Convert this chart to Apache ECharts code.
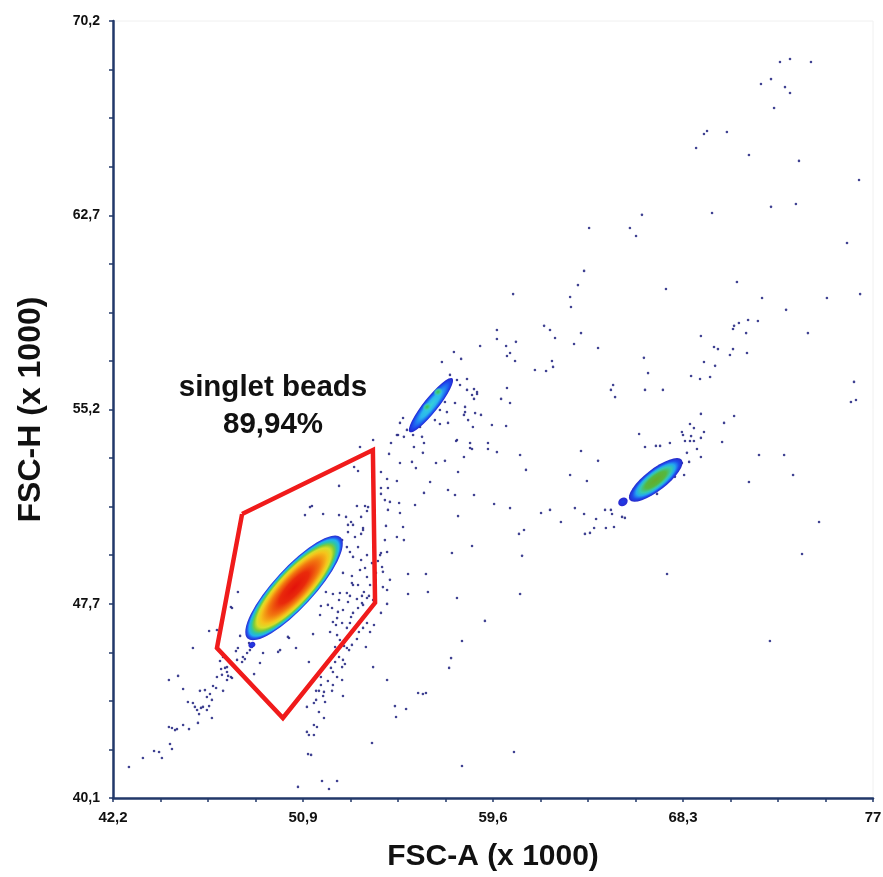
<!DOCTYPE html>
<html>
<head>
<meta charset="utf-8">
<script src="https://cdn.jsdelivr.net/npm/echarts@6/dist/echarts.min.js"></script>
<style>
  html, body { margin: 0; padding: 0; background: #ffffff; }
  #main { width: 883px; height: 877px; }
</style>
</head>
<body>
<div id="main"></div>
<script>
// axis ticks (FSC-A x1000, FSC-H x1000)
var xTickValues = [42.2, 50.9, 59.6, 68.3, 77];
var xTickLabels = ['42,2', '50,9', '59,6', '68,3', '77'];
var yTickValues = [40.1, 47.625, 55.15, 62.675, 70.2];
var yTickLabels = ['40,1', '47,7', '55,2', '62,7', '70,2'];

// gate "singlet beads" vertices [FSC-A, FSC-H]
var gateVertices = [
    [48.11, 51.10], [54.10, 53.58], [54.20, 47.66], [49.98, 43.20], [46.96, 45.91], [48.11, 51.10]
];

// density blobs: [centerA, centerH, tipA, tipH, widthRatio]
var densitySinglets = [
    [50.49, 48.24, 52.62, 50.20, 0.29]
];
var densityDoubletsLow = [
    [56.76, 55.32, 57.74, 56.36, 0.21]
];
var densityDoubletsHigh = [
    [67.05, 52.42, 68.24, 53.20, 0.33]
];
var densitySpots = [
    [56.58, 55.25, 56.76, 55.36, 0.8],
    [57.08, 55.83, 57.27, 55.94, 0.8]
];
var densitySmall = [
    [65.55, 51.57, 65.74, 51.68, 0.8],
    [48.56, 46.03, 48.70, 46.10, 0.8]
];

// single events [FSC-A, FSC-H]
var events = [
    [72.74,68.61],[73.20,68.73],[74.16,68.61],[71.87,67.76],[72.33,67.95],[72.97,67.64],[73.20,67.41],[72.47,66.83],
    [69.26,65.82],[69.40,65.94],[70.31,65.90],[68.90,65.28],[71.32,65.01],[73.61,64.78],[76.36,64.04],[66.42,62.69],
    [64.00,62.18],[65.87,62.18],[66.15,61.87],[69.63,62.76],[72.33,63.00],[73.47,63.11],[75.81,61.60],[63.77,60.52],
    [63.49,59.97],[63.13,59.51],[63.17,59.12],[60.52,59.62],[67.52,59.82],[70.77,60.09],[71.92,59.47],[74.89,59.47],
    [76.41,59.62],[73.02,59.01],[71.73,58.58],[71.28,58.62],[70.86,58.50],[70.64,58.39],[70.59,58.27],[71.19,58.11],
    [74.02,58.11],[69.12,58.00],[59.78,58.23],[59.78,57.88],[59.01,57.61],[60.20,57.61],[60.65,57.77],[61.94,58.39],
    [62.21,58.23],[62.44,57.92],[63.63,58.11],[63.31,57.69],[64.41,57.53],[69.72,57.57],
    [69.90,57.49],[70.59,57.49],[70.45,57.26],[71.23,57.34],[69.26,56.99],[69.77,56.84],[68.67,56.45],[69.08,56.33],
    [69.54,56.41],[67.38,55.91],[76.13,56.22],[75.99,55.44],[76.22,55.52],[69.12,54.98],[70.64,54.90],[70.18,54.63],
    [68.62,54.59],[68.80,54.43],[69.26,54.28],[68.25,54.28],[69.12,54.05],[70.09,53.89],[68.39,53.93],[68.80,53.93],
    [68.67,54.12],[68.94,53.62],[69.12,53.31],[71.78,53.39],[72.93,53.39],[73.34,52.61],[71.32,52.34],[74.53,50.79],
    [73.75,49.55],[67.57,48.78],[72.28,46.18],[68.35,52.61],[67.93,52.54],[67.11,51.88],[67.70,53.85],[67.06,53.74],
    [67.25,53.74],[68.48,53.47],[68.25,53.08],[68.58,53.12],
    [57.81,57.38],[58.14,57.11],[60.38,57.34],[60.24,57.22],[60.61,57.03],[62.30,57.03],[62.35,56.80],[61.52,56.68],
    [62.03,56.64],[66.51,57.15],[66.70,56.56],[65.10,56.10],[65.00,55.91],[65.19,55.63],[66.56,55.91],[60.24,55.98],
    [59.97,55.56],[60.38,55.40],[58.73,55.94],[58.87,55.75],[58.73,55.56],[58.41,56.33],[57.86,55.40],[58.32,55.05],
    [58.27,54.94],[58.46,54.74],[59.05,54.94],[59.55,54.55],[60.20,54.51],[57.95,53.97],[58.55,53.85],[58.64,53.62],
    [59.37,53.85],[59.37,53.62],[59.78,53.50],[58.27,53.31],[60.84,53.39],[63.63,53.54],[66.29,54.20],[66.56,53.70],
    [64.41,53.16],[61.11,52.81],[63.13,52.61],[63.90,52.38],[58.00,52.73],[57.86,51.84],[58.73,51.84],[59.65,51.49],
    [60.38,51.33],[58.00,51.02],[61.80,51.14],[62.21,51.26],[63.35,51.33],[62.71,50.79],[63.77,51.10],[64.32,50.91],
    [64.73,51.26],[65.00,51.26],[64.77,50.56],[65.14,50.60],[64.23,50.56],[64.04,50.37],[63.81,50.33],[61.02,50.48],
    [60.79,50.33],[58.64,49.86],[60.93,49.48],[65.05,51.10],[65.51,50.99],[65.64,50.95],[68.30,54.16],[68.62,53.93],
    [54.11,53.97],[53.51,53.70],[54.93,53.85],[55.25,54.16],[55.52,54.09],[55.98,53.70],[56.44,53.85],[54.84,53.43],
    [55.34,53.08],[55.89,53.12],[56.07,52.88],[56.39,53.47],[56.99,53.08],[57.40,53.16],[57.91,53.93],[58.55,53.66],
    [57.17,54.59],[53.24,52.92],[53.42,52.77],[52.55,52.19],[54.47,52.73],[54.75,52.46],[55.20,52.38],[54.47,52.11],
    [54.79,52.11],[54.47,51.88],[54.65,51.64],[54.88,51.57],[55.30,51.53],[54.79,51.26],[56.03,51.45],[56.72,52.34],
    [56.44,51.92],[57.54,52.03],[57.72,49.59],[56.53,48.78],[55.71,48.78],[55.34,51.14],[54.70,50.64],[55.48,50.60],
    [55.20,50.21],[55.52,50.09],[54.75,49.63],[54.47,49.59],[54.33,49.28],[54.56,48.86],[54.88,48.55],[54.75,48.16],
    [54.56,48.27],[51.22,51.37],[50.99,51.06],[51.82,51.10],[52.55,51.06],[52.87,50.99],[53.10,50.79],[53.56,50.99],
    [53.65,50.56],[53.83,51.22],[53.88,51.37],[53.19,50.68],[52.96,50.40],[53.28,50.21],[53.56,50.33],[52.69,50.09],
    [52.91,49.82],[53.19,49.44],[53.56,49.32],[53.74,49.01],[54.06,49.20],[53.83,48.66],[53.14,48.70],[53.42,48.35],
    [52.73,48.82],[52.91,48.04],[53.69,48.08],[53.97,48.35],[53.83,47.85],[54.43,49.51],[54.52,49.05],[53.19,48.35],
    [54.24,48.82],
    [55.71,48.00],[56.62,48.08],[57.95,47.85],[60.84,48.00],[59.23,46.96],[58.18,46.18],[57.68,45.52],[57.59,45.14],
    [54.75,44.67],[56.17,44.17],[56.39,44.13],[56.53,44.17],[55.11,43.66],[55.62,43.55],[55.16,43.24],[54.06,42.23],
    [60.56,41.88],[58.18,41.34],[51.77,40.76],[52.46,40.76],[52.09,40.45],[51.13,41.80],[51.27,41.77],[51.08,42.66],
    [51.17,42.54],[51.40,42.54],[51.40,42.93],[51.54,42.85],[51.86,43.20],[51.63,43.43],[51.08,43.63],[51.40,43.78],
    [51.82,44.05],[51.91,43.82],[52.73,44.05],[51.50,44.25],[51.63,44.25],[52.23,44.25],[52.27,44.48],[52.04,44.63],
    [51.72,44.48],[51.72,44.79],[52.69,44.67],[51.17,45.37],[51.36,46.45],[51.68,47.19],[51.72,47.54],[52.04,47.58],
    [52.23,47.46],[52.55,47.77],[52.50,47.31],[52.27,46.92],[52.41,46.80],[52.46,47.07],[52.69,46.88],[53.05,46.88],
    [52.91,46.69],[53.10,47.11],[53.19,47.27],[53.42,47.46],[53.60,47.65],[53.37,47.81],[53.83,46.88],[53.97,46.53],
    [54.15,46.80],[54.47,47.27],[54.75,47.62],[53.65,46.69],[53.46,46.53],[53.37,46.26],[53.14,46.03],[52.91,45.91],
    [52.78,45.99],[53.01,45.83],[53.78,45.95],[52.46,46.41],[52.37,45.95],[52.37,45.72],[52.55,45.56],[52.37,45.37],
    [52.69,45.17],[52.82,45.29],[52.18,45.14],[52.27,44.98],[52.73,45.45],[52.46,44.79],[51.86,44.21],[51.95,48.08],
    [52.27,48.00],[52.59,48.04],[52.96,47.69],[53.05,47.93],[53.60,47.93],[53.92,47.93],[53.65,47.58],
    [42.93,41.30],[43.57,41.65],[44.08,41.92],[44.31,41.88],[44.44,41.65],[44.81,42.19],[44.90,42.00],[44.76,42.85],
    [44.90,42.81],[45.04,42.73],[45.13,42.77],[45.41,42.93],[45.68,42.77],[46.09,43.01],[46.73,43.20],[45.63,43.82],
    [45.86,43.78],[45.95,43.63],[46.05,43.51],[46.14,43.35],[46.23,43.59],[46.32,43.63],[46.50,43.51],[46.60,43.66],
    [46.18,44.25],[46.41,44.28],[46.50,44.01],[46.64,44.13],[46.73,43.90],[45.41,44.32],[44.76,44.67],[45.18,44.83],
    [46.78,44.44],[46.92,44.36],[46.96,44.79],[47.15,45.10],[47.19,44.87],[47.24,44.25],[47.33,45.14],[47.42,44.98],
    [47.42,44.67],[47.47,44.83],[47.60,44.79],[47.65,44.75],[47.42,45.17],[45.86,45.91],[46.60,46.57],[47.10,45.41],
    [47.60,47.50],[47.83,45.79],[47.92,45.91],[48.15,45.56],[48.34,45.72],[48.24,45.48],[48.47,45.83],[48.56,45.95],
    [48.43,46.10],[48.66,44.90],[49.07,45.72],[49.76,45.76],[50.58,45.91],[50.26,46.30],[48.02,46.38],[48.38,46.53],
    [48.56,46.69],[47.88,45.45],[48.11,45.37],[50.67,40.53],[51.50,43.90],
    [51.31,51.41],[53.37,51.41],[53.74,51.41],[47.92,48.08],[47.65,47.46],[46.96,46.61],[50.21,46.34],[49.85,45.83],
    [48.93,45.33],[47.24,45.56],[54.11,45.17],[54.65,50.09],[52.96,50.68],[53.65,50.48],[53.42,49.82],[53.05,49.63],
    [53.83,49.51],[53.51,48.93],[53.14,48.43],[54.11,47.77],[52.73,47.38],[52.14,46.53],[52.59,46.22],
    [57.26,56.99],[57.63,56.49],[57.95,56.29],[58.09,56.10],[58.41,55.91],[58.64,55.71],[57.40,55.44],[57.17,55.13],
    [57.49,55.05],[56.94,54.74],[57.54,54.63],[55.48,54.82],[55.34,54.63],[55.66,54.36],[55.20,54.16],[55.94,54.16],
    [56.26,54.47],[56.35,54.09],[58.32,55.25],[58.78,55.01],[58.68,54.47],[58.87,55.83]
];

var FONT = '"Liberation Sans", Arial, sans-serif';
var AXIS_COLOR = '#22386a';

function minorTicks(majors) {
    var out = [];
    for (var i = 0; i < majors.length - 1; i++) {
        var step = (majors[i + 1] - majors[i]) / 4;
        for (var k = 0; k < 4; k++) out.push(majors[i] + k * step);
    }
    out.push(majors[majors.length - 1]);
    return out;
}

function tickLabel(values, labels) {
    return function (v) {
        for (var i = 0; i < values.length; i++) {
            if (Math.abs(values[i] - v) < 1e-6) return labels[i];
        }
        return '';
    };
}

function stops(list) {
    return list.map(function (s) { return { offset: s[0], color: s[1] }; });
}

var hotStops = stops([
    [0, '#e3120b'], [0.3, '#e92a0b'], [0.52, '#f2760f'], [0.68, '#f5c41b'],
    [0.76, '#d8df2a'], [0.82, '#7ccb3a'], [0.87, '#2ec6a4'], [0.92, '#22b2ee'],
    [0.96, '#2256ee'], [1, '#2a2acc']
]);
var coldStops = stops([
    [0, '#36d0d8'], [0.45, '#2ab6ee'], [0.7, '#1f70f0'], [0.88, '#1e3ee8'], [1, '#2626c8']
]);
var greenStops = stops([
    [0, '#66aa2a'], [0.38, '#55b840'], [0.58, '#35c9b0'], [0.72, '#23a8ef'], [0.86, '#1f4ceb'], [1, '#2626c8']
]);
var spotStops = stops([
    [0, '#3cbf55'], [0.5, '#3ccaa0'], [1, 'rgba(54,208,216,0)']
]);
var smallStops = stops([
    [0, '#1f3ee8'], [1, '#2a2ad0']
]);

function blobSeries(data, colorStops, z) {
    return {
        type: 'custom',
        data: data,
        z: z,
        silent: true,
        encode: { x: 0, y: 1 },
        renderItem: function (params, api) {
            var c = api.coord([api.value(0), api.value(1)]);
            var t = api.coord([api.value(2), api.value(3)]);
            var dx = t[0] - c[0];
            var dy = t[1] - c[1];
            var r = Math.sqrt(dx * dx + dy * dy);
            return {
                type: 'circle',
                x: c[0],
                y: c[1],
                rotation: Math.atan2(-dy, dx),
                scaleX: 1,
                scaleY: api.value(4),
                shape: { cx: 0, cy: 0, r: r },
                style: {
                    fill: { type: 'radial', x: 0.5, y: 0.5, r: 0.5, colorStops: colorStops }
                }
            };
        }
    };
}

var myChart = echarts.init(document.getElementById('main'), null, { renderer: 'canvas' });

var option = {
    animation: false,
    backgroundColor: '#ffffff',
    grid: {
        left: 113,
        right: 10,
        top: 21,
        bottom: 79,
        show: true,
        borderColor: '#f0f0f0',
        borderWidth: 1,
        containLabel: false,
        outerBoundsMode: 'none'
    },
    xAxis: {
        type: 'value',
        min: 42.2,
        max: 77,
        name: 'FSC-A (x 1000)',
        nameLocation: 'middle',
        nameGap: 44,
        nameTextStyle: { fontFamily: FONT, fontWeight: 'bold', fontSize: 30, color: '#111111' },
        axisLine: { lineStyle: { color: AXIS_COLOR, width: 2.5 } },
        axisTick: {
            customValues: minorTicks(xTickValues),
            length: 4,
            lineStyle: { color: AXIS_COLOR, width: 1.5 }
        },
        axisLabel: {
            customValues: xTickValues,
            formatter: tickLabel(xTickValues, xTickLabels),
            margin: 12,
            fontFamily: FONT,
            fontWeight: 'bold',
            fontSize: 15,
            color: '#111111'
        },
        splitLine: { show: false }
    },
    yAxis: {
        type: 'value',
        min: 40.1,
        max: 70.2,
        name: 'FSC-H (x 1000)',
        nameLocation: 'middle',
        nameGap: 66,
        nameTextStyle: { fontFamily: FONT, fontWeight: 'bold', fontSize: 32, color: '#111111' },
        axisLine: { lineStyle: { color: AXIS_COLOR, width: 2.5 } },
        axisTick: {
            customValues: minorTicks(yTickValues),
            length: 4,
            lineStyle: { color: AXIS_COLOR, width: 1.5 }
        },
        axisLabel: {
            customValues: yTickValues,
            formatter: tickLabel(yTickValues, yTickLabels),
            margin: 13,
            fontFamily: FONT,
            fontWeight: 'bold',
            fontSize: 14,
            color: '#111111'
        },
        splitLine: { show: false }
    },
    graphic: [
        {
            type: 'text',
            x: 273,
            y: 369,
            style: {
                text: 'singlet beads\n89,94%',
                font: 'bold 29.5px ' + FONT,
                fill: '#111111',
                align: 'center',
                verticalAlign: 'top',
                lineHeight: 37
            }
        }
    ],
    series: [
        {
            name: 'events',
            type: 'scatter',
            data: events,
            symbol: 'circle',
            symbolSize: 2.6,
            itemStyle: { color: '#2b2e86', opacity: 0.9 },
            z: 2,
            silent: true
        },
        blobSeries(densitySinglets, hotStops, 3),
        blobSeries(densityDoubletsLow, coldStops, 3),
        blobSeries(densityDoubletsHigh, greenStops, 3),
        blobSeries(densitySmall, smallStops, 3),
        blobSeries(densitySpots, spotStops, 4),
        {
            name: 'gate',
            type: 'line',
            data: gateVertices,
            symbol: 'none',
            lineStyle: { color: '#f01b1b', width: 4.5, join: 'miter' },
            z: 6,
            silent: true
        }
    ]
};

myChart.setOption(option);

window.addEventListener('resize', myChart.resize);
</script>
</body>
</html>
